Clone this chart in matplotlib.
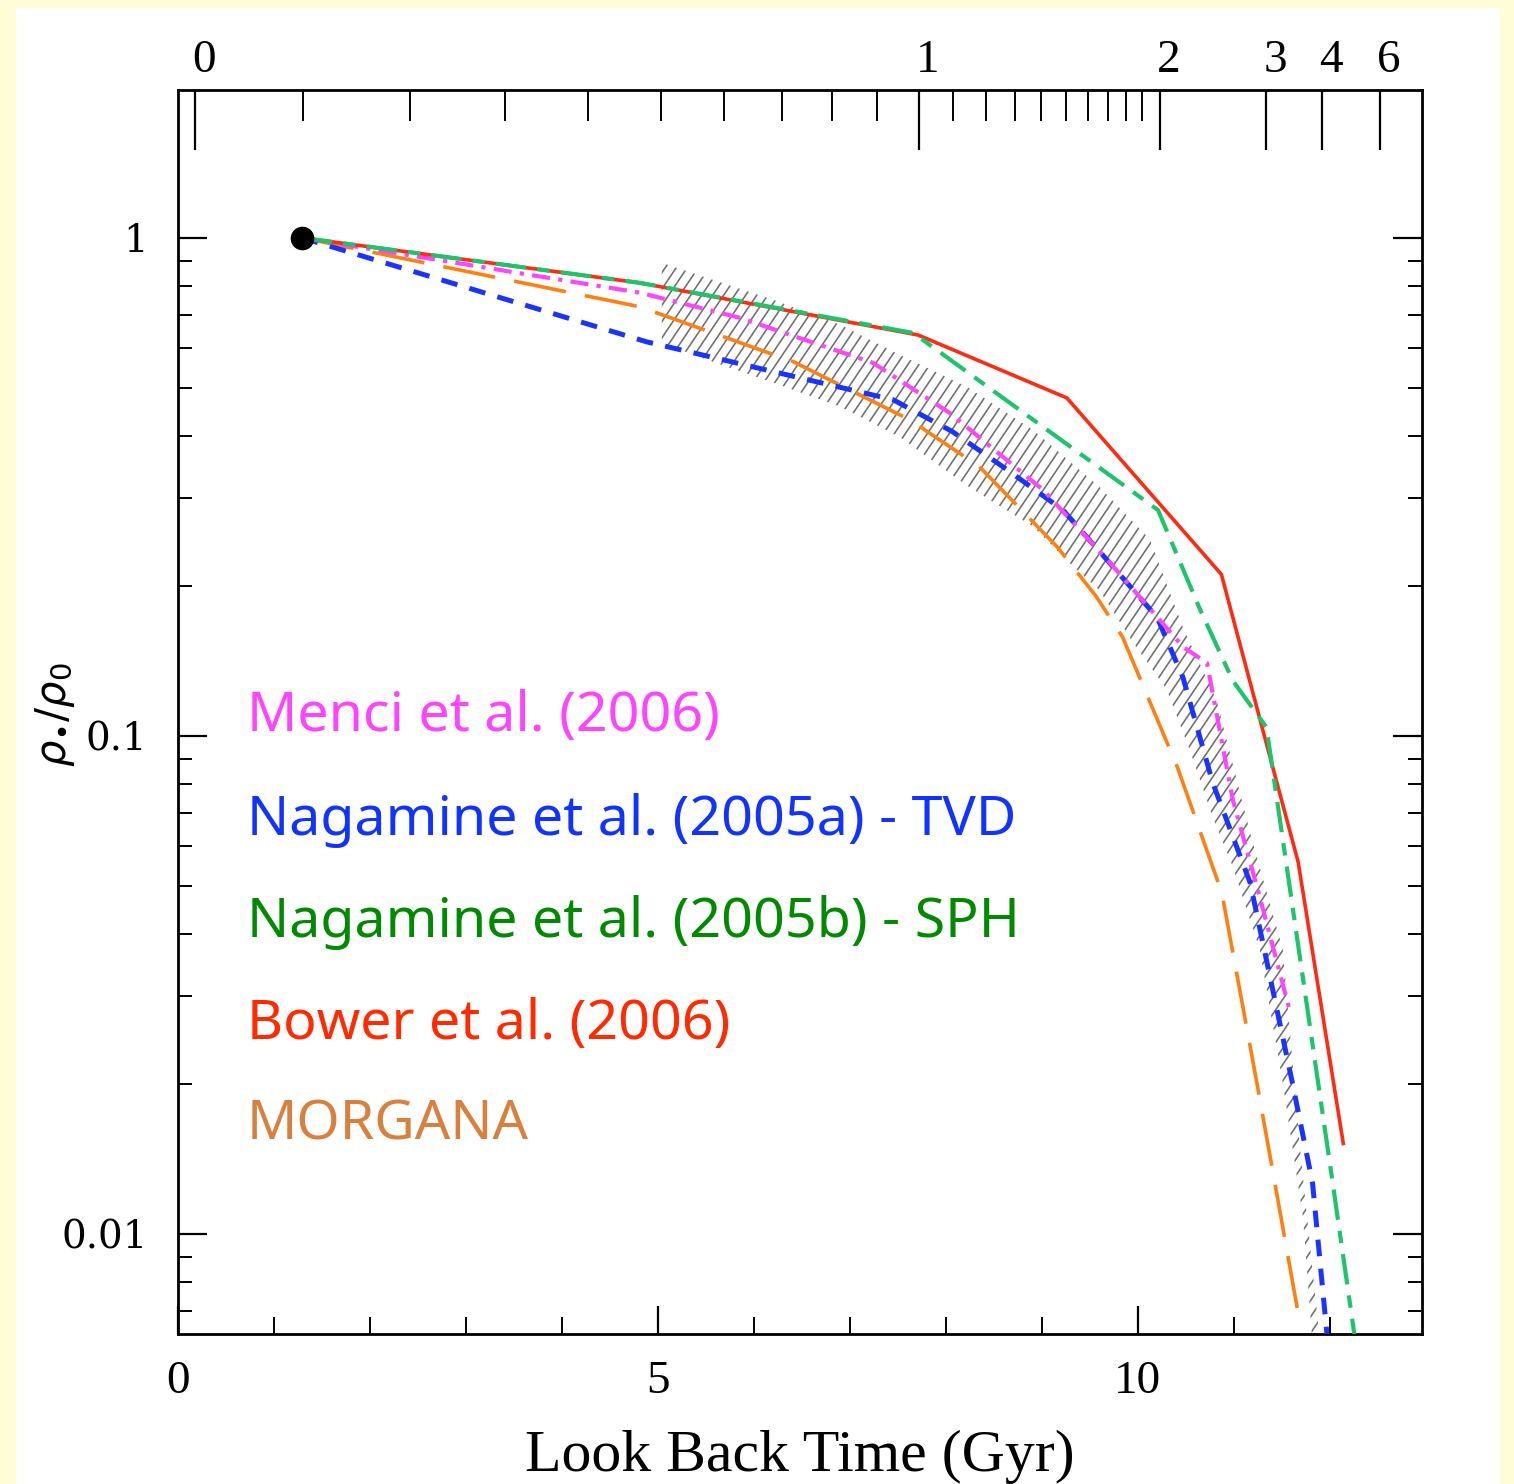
import matplotlib
matplotlib.use("Agg")
import matplotlib.pyplot as plt
import matplotlib.transforms as mtransforms
from matplotlib.patches import Rectangle, Polygon
from matplotlib.collections import LineCollection
import numpy as np

# look back time (Gyr) and rho_*/rho_0 for each model
bower_t = [1.29, 4.81, 7.71, 9.26, 10.87, 11.30, 11.67, 12.14]
bower_y = [1.0, 0.812, 0.638, 0.477, 0.211, 0.103, 0.0558, 0.0152]

sph_t = [1.29, 4.81, 7.66, 10.21, 10.65, 10.99, 11.34, 12.03, 12.26]
sph_y = [1.0, 0.812, 0.644, 0.284, 0.179, 0.129, 0.104, 0.01265, 0.0062]

menci_t = [1.29, 4.81, 5.85, 7.24, 8.04, 9.01, 9.68, 10.47, 10.72, 10.99, 11.27, 11.58]
menci_y = [1.0, 0.776, 0.691, 0.561, 0.445, 0.312, 0.226, 0.151, 0.140, 0.0743, 0.0475, 0.0282]

tvd_t = [1.29, 4.885, 6.34, 7.45, 8.07, 8.64, 9.22, 9.71, 10.20, 10.47, 10.78, 11.17, 11.61, 11.82, 11.98]
tvd_y = [1.0, 0.618, 0.531, 0.473, 0.408, 0.342, 0.284, 0.222, 0.173, 0.131, 0.0805, 0.0507, 0.0201, 0.01265, 0.006]

morgana_t = [1.29, 4.81, 6.41, 7.625, 8.35, 9.16, 9.57, 9.84, 10.41, 10.875, 11.24, 11.69]
morgana_y = [1.0, 0.727, 0.564, 0.431, 0.347, 0.2395, 0.190, 0.158, 0.0867, 0.0484, 0.0201, 0.0066]

# observational band (hatched)
band_hi_t = [5.04, 5.51, 6.20, 6.90, 7.52, 8.22, 8.91, 9.60, 10.125, 10.47, 10.82, 11.17, 11.51, 11.69, 11.90]
band_hi = [0.891, 0.831, 0.751, 0.669, 0.582, 0.502, 0.411, 0.316, 0.248, 0.165, 0.118, 0.0638, 0.0372, 0.01476, 0.0060]
band_lo_t = [5.04, 5.51, 6.20, 6.90, 7.52, 8.22, 8.91, 9.26, 9.60, 9.95, 10.30, 10.54, 10.78, 10.99, 11.27, 11.51, 11.72, 11.82]
band_lo = [0.615, 0.569, 0.512, 0.458, 0.398, 0.318, 0.263, 0.225, 0.196, 0.154, 0.124, 0.0938, 0.0687, 0.0546, 0.0372, 0.0201, 0.0108, 0.0060]

point_t = [1.29]
point_y = [1.0]

# redshift axis on top (z and the look back time where it sits)
z_labels = ["0", "1", "2", "3", "4", "6"]
z_major_t = [0.18, 7.72, 10.23, 11.34, 11.92, 12.52]
z_minor_t = [1.30, 2.42, 3.41, 4.27, 5.03, 5.69, 6.29, 6.81, 7.28,
             8.07, 8.42, 8.72, 8.99, 9.25, 9.48, 9.69, 9.88, 10.04]

labels = ["Menci et al. (2006)", "Nagamine et al. (2005a) - TVD",
          "Nagamine et al. (2005b) - SPH", "Bower et al. (2006)", "MORGANA"]
label_colors = ["#ff44ff", "#1133ff", "#008a00", "#ff2a00", "#d8813f"]

plt.rcParams["lines.scale_dashes"] = False

fig = plt.figure(figsize=(15.14, 14.84), dpi=100)
fig.patch.set_facecolor("#fffdd8")
fig.patches.append(Rectangle((16 / 1514, 0), (1500 - 16) / 1514, 1 - 8 / 1484,
                             transform=fig.transFigure, facecolor="white",
                             edgecolor="none", zorder=-5))

ax = fig.add_axes([178 / 1514, 1 - 1334 / 1484, (1422 - 178) / 1514, (1334 - 90) / 1484])
ax.set_facecolor("white")
ax.set_yscale("log")
ax.set_xlim(0, 12.96)
ax.set_ylim(0.0063, 1.98)

# band outline, hatched by hand with steep thin lines clipped to it
poly_x = list(band_hi_t) + list(band_lo_t[::-1])
poly_y = list(band_hi) + list(band_lo[::-1])
band = Polygon(np.column_stack([poly_x, poly_y]), closed=True, facecolor="none",
               edgecolor="none", zorder=1)
ax.add_patch(band)
step = 11.0 / 1244
lean = 1 / np.tan(np.radians(56))
segs = [[(c, 0), (c + lean, 1)] for c in np.arange(-1, 1.2, step)]
hatch = LineCollection(segs, colors="#6e6e6e", linewidths=1.15,
                       transform=ax.transAxes, zorder=1)
ax.add_collection(hatch)
hatch.set_clip_path(band)

ax.plot(morgana_t, morgana_y, color="#ff7f10", lw=2.6, dashes=(38, 14), zorder=3)
ax.plot(tvd_t, tvd_y, color="#1a33ff", lw=3.6, dashes=(12, 9), zorder=4)
ax.plot(menci_t, menci_y, color="#ff44ff", lw=3.0, dashes=(13, 6, 3, 6), zorder=5)
ax.plot(bower_t, bower_y, color="#ff2a12", lw=2.6, zorder=6)
ax.plot(sph_t, sph_y, color="#1fc46a", lw=3.0, dashes=(22, 8, 9, 8), zorder=7)
ax.plot(point_t, point_y, "o", color="black", ms=16, zorder=8)

ax.set_xticks([0, 5, 10])
ax.set_xticks(np.arange(1, 13), minor=True)
ax.set_xticklabels(["0", "5", "10"], family="Liberation Serif", fontsize=34)
ax.set_yticks([0.01, 0.1, 1])
ax.set_yticklabels(["0.01", "0.1", "1"], family="DejaVu Serif", fontsize=28)
ax.yaxis.set_minor_formatter(matplotlib.ticker.NullFormatter())

ax.tick_params(which="major", axis="x", direction="in", length=20, width=1.6, pad=19, top=False)
ax.tick_params(which="minor", axis="x", direction="in", length=12, width=1.4, top=False)
ax.tick_params(which="major", axis="y", direction="in", length=21, width=1.6, pad=22, right=True)
ax.tick_params(which="minor", axis="y", direction="in", length=10, width=1.4, right=True)
for s in ax.spines.values():
    s.set_linewidth(2.0)

ax2 = ax.twiny()
ax2.set_xlim(ax.get_xlim())
ax2.set_xticks(z_major_t)
ax2.set_xticks(z_minor_t, minor=True)
ax2.set_xticklabels(z_labels, family="Liberation Serif", fontsize=34)
ax2.tick_params(which="major", direction="in", length=43, width=1.6, pad=6)
ax2.tick_params(which="minor", direction="in", length=22, width=1.4)
shift = mtransforms.ScaledTranslation(9 / 100, 0, fig.dpi_scale_trans)
for lab in ax2.get_xticklabels():
    lab.set_transform(lab.get_transform() + shift)

fig.text(800 / 1514, 1 - 1457 / 1484, "Look Back Time (Gyr)", family="Liberation Serif",
         fontsize=43, ha="center", va="center")
fig.text(55 / 1514, 1 - 715 / 1484, r"$\rho_{\bullet}/\rho_0$", fontsize=30,
         rotation=90, ha="center", va="center")

ys = [717, 820, 922, 1025, 1125]
for txt, c, yy in zip(labels, label_colors, ys):
    fig.text(247 / 1514, 1 - yy / 1484, txt, color=c, family="Noto Sans",
             fontsize=40, ha="left", va="center")

fig.savefig("out.png", dpi=100, facecolor=fig.get_facecolor())
